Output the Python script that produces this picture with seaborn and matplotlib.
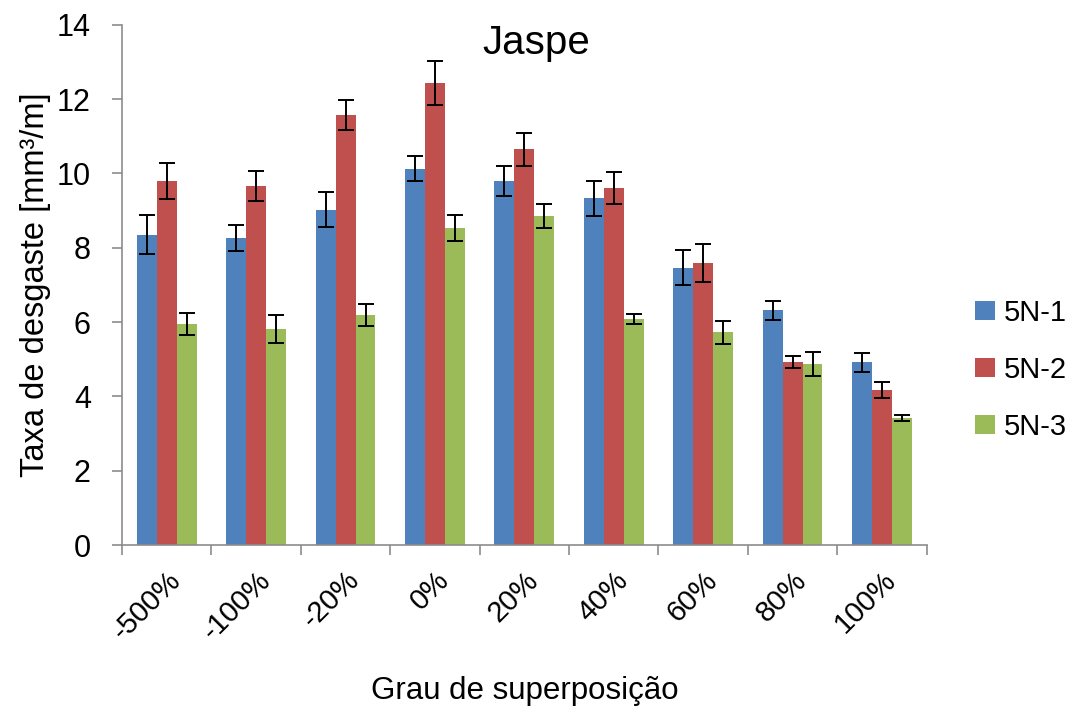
import matplotlib
matplotlib.use("Agg")
import matplotlib.pyplot as plt
import matplotlib.transforms as mtransforms
import seaborn as sns
import pandas as pd
import numpy as np

categories = ["-500%", "-100%", "-20%", "0%", "20%", "40%", "60%", "80%", "100%"]
series = ["5N-1", "5N-2", "5N-3"]
vals_5n1 = [8.35, 8.25, 9.02, 10.13, 9.80, 9.33, 7.46, 6.32, 4.92]
vals_5n2 = [9.80, 9.67, 11.58, 12.43, 10.65, 9.61, 7.59, 4.92, 4.17]
vals_5n3 = [5.95, 5.82, 6.19, 8.53, 8.86, 6.09, 5.72, 4.87, 3.42]
err_5n1 = [0.52, 0.35, 0.47, 0.33, 0.40, 0.47, 0.47, 0.26, 0.26]
err_5n2 = [0.49, 0.40, 0.40, 0.60, 0.45, 0.43, 0.52, 0.16, 0.21]
err_5n3 = [0.30, 0.37, 0.30, 0.35, 0.33, 0.14, 0.30, 0.33, 0.07]
colors = ["#4F81BD", "#C0504D", "#9BBB59"]

sns.set_theme(style="white")
plt.rcParams["font.family"] = ["Liberation Sans", "DejaVu Sans"]
plt.rcParams["text.color"] = "black"
plt.rcParams["axes.labelcolor"] = "black"
plt.rcParams["xtick.color"] = "black"
plt.rcParams["ytick.color"] = "black"

rows = []
for s, v in zip(series, [vals_5n1, vals_5n2, vals_5n3]):
    for c, y in zip(categories, v):
        rows.append({"cat": c, "serie": s, "val": y})
df = pd.DataFrame(rows)

fig = plt.figure(figsize=(10.8, 7.07), dpi=100)
ax = fig.add_axes([0.113, 0.229, 0.745, 0.736])
sns.barplot(data=df, x="cat", y="val", hue="serie", order=categories,
            hue_order=series, palette=colors, saturation=1, width=0.67,
            errorbar=None, ax=ax, edgecolor="none", linewidth=0)

for cont, errs in zip(ax.containers, [err_5n1, err_5n2, err_5n3]):
    xs = [p.get_x() + p.get_width() / 2 for p in cont]
    ys = [p.get_height() for p in cont]
    ax.errorbar(xs, ys, yerr=errs, fmt="none", ecolor="black",
                elinewidth=1.4, capsize=6, capthick=1.4, zorder=5)

ax.set_xlim(-0.5, len(categories) - 0.5)
ax.set_ylim(0, 14)
ax.set_yticks(np.arange(0, 15, 2))
ax.set_xticks(range(len(categories)))
ax.set_xticklabels(categories, rotation=45, ha="right",
                   rotation_mode="anchor", fontsize=21)
shift = mtransforms.ScaledTranslation(-5 / 100, 0, fig.dpi_scale_trans)
for lab in ax.get_xticklabels():
    lab.set_transform(lab.get_transform() + shift)
ax.set_xticks(np.arange(-0.5, len(categories), 1), minor=True)
ax.tick_params(axis="x", which="major", length=0, pad=15)
ax.tick_params(axis="x", which="minor", length=7.5, width=1.2,
               color="#8C8C8C", direction="out", bottom=True)
ax.tick_params(axis="y", which="major", length=7.5, width=1.2,
               color="#8C8C8C", direction="out", left=True,
               labelsize=22, pad=15)

for side in ["top", "right"]:
    ax.spines[side].set_visible(False)
for side in ["left", "bottom"]:
    ax.spines[side].set_color("#8C8C8C")
    ax.spines[side].set_linewidth(1.2)

ax.set_xlabel("Grau de superposição", fontsize=22.5, labelpad=22)
ax.set_ylabel("Taxa de desgaste [mm³/m]", fontsize=23.5, labelpad=4)
ax.text(0.515, 0.965, "Jaspe", transform=ax.transAxes, ha="center",
        va="center", fontsize=29)

leg = ax.legend(loc="center left", bbox_to_anchor=(1.046, 0.337),
                frameon=False, fontsize=21, handlelength=0.66,
                handleheight=0.66, labelspacing=1.0, handletextpad=0.3,
                borderaxespad=0)

fig.savefig("out.png", dpi=100)
